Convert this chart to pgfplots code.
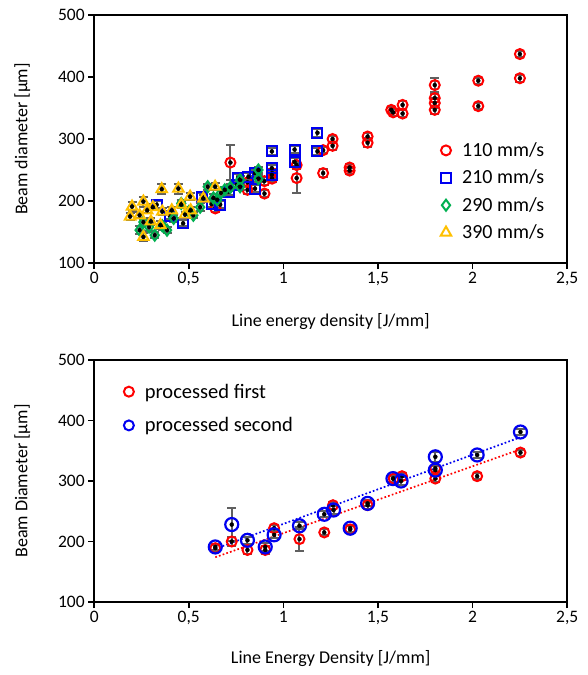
\documentclass[border=0pt]{standalone}
\usepackage{pgfplots}
\pgfplotsset{compat=1.18}
\usepackage{pgfplotstable}
\usepackage{fontspec}
\setmainfont{Carlito}
\definecolor{cred}{HTML}{FF0000}
\definecolor{cblue}{HTML}{0000F0}
\definecolor{cgreen}{HTML}{00B050}
\definecolor{cyellow}{HTML}{FFC000}
\definecolor{cgray}{HTML}{606060}

\pgfplotstableread{
x y e
0.64 188 5
0.72 262 28
0.81 218 6
0.81 230 5
0.90 212 5
0.90 232 6
0.94 245 6
0.94 236 5
1.07 258 6
1.07 237 24
1.21 282 5
1.21 245 6
1.26 300 5
1.26 289 6
1.35 254 6
1.35 249 5
1.445 304 6
1.445 294 7
1.57 347 5
1.58 343 6
1.63 355 6
1.63 341 5
1.80 387 11
1.80 366 7
1.80 358 8
1.80 347 6
2.03 394 5
2.03 353 5
2.25 437 5
2.25 398 6
}\dA

\pgfplotstableread{
x y e
0.33 194 6
0.40 176 5
0.47 164 5
0.57 207 6
0.62 195 5
0.666 194 6
0.71 215 6
0.754 226 5
0.76 237 6
0.815 239 6
0.85 245 5
0.85 220 6
0.939 280 6
0.939 253 5
0.939 242 6
1.059 283 5
1.059 263 6
1.18 310 6
1.18 280 5
}\dB

\pgfplotstableread{
x y e
0.24 153 6
0.26 166 5
0.29 158 6
0.32 145 5
0.36 160 6
0.385 153 5
0.42 172 6
0.46 196 5
0.50 183 6
0.524 177 5
0.56 190 6
0.60 223 5
0.63 205 6
0.65 202 5
0.67 213 6
0.69 218 5
0.72 222 6
0.771 234 6
0.771 223 5
0.868 250 5
0.868 236 6
}\dC

\pgfplotstableread{
x y e
0.19 175 6
0.20 191 7
0.24 177 5
0.26 199 8
0.26 142 6
0.28 185 5
0.30 167 6
0.31 190 5
0.35 161 6
0.36 183 5
0.357 219 8
0.41 185 6
0.445 220 8
0.46 194 6
0.48 178 5
0.507 207 6
0.51 185 5
0.577 204 6
0.639 223 6
}\dD

\pgfplotstableread{
x y e
0.64 189 5
0.727 200 8
0.81 186 6
0.904 186 6
0.951 222 6
1.085 204 20
1.216 215 5
1.262 260 6
1.353 220 6
1.445 260 6
1.583 304 5
1.627 308 6
1.803 304 5
1.803 321 6
2.024 308 5
2.253 347 5
}\dE

\pgfplotstableread{
x y e
0.64 191 5
0.727 228 27
0.81 202 6
0.904 191 6
0.951 211 6
1.085 226 6
1.216 245 5
1.265 252 6
1.353 222 6
1.445 263 5
1.579 304 5
1.622 300 6
1.803 340 8
1.803 318 6
2.024 343 5
2.253 381 5
}\dF

\pgfplotsset{
  myax/.style={
    scale only axis, width=473pt,
    xmin=0, xmax=2.5, ymin=100, ymax=500,
    xtick={0,0.5,1,1.5,2,2.5}, ytick={100,200,300,400,500},
    axis line style={line width=1.5pt},
    major tick style={line width=1.5pt, black},
    major tick length=6pt, tick align=outside,
    xtick pos=bottom, ytick pos=left,
    ticklabel style={font=\fontsize{17.5}{20}\selectfont},
    label style={font=\fontsize{18}{21}\selectfont},
    /pgf/number format/assume math mode=true,
    /pgf/number format/use comma,
    clip=false,
  },
  eb/.style={only marks, mark=none, forget plot,
    error bars/.cd, y dir=both, y explicit,
    error bar style={line width=2pt, color=cgray},
    error mark options={rotate=90, mark size=4.5pt, line width=2pt, color=cgray}},
}

\begin{document}
\begin{tikzpicture}
\path[use as bounding box] (-94.2pt,-412pt) rectangle (493.8pt,263pt);
\begin{axis}[myax, height=248pt, at={(0,0)}, anchor=south west,
  xlabel={Line energy density [J/mm]},
  ylabel={Beam diameter [µm]},
  xlabel style={at={(axis description cs:0.5,-0.235)}, anchor=center},
  ylabel style={at={(axis description cs:-0.152,0.5)}, anchor=center},
  legend style={draw=none, fill=none, at={(axis description cs:0.726,0.502)}, anchor=north west,
    font=\fontsize{20}{23}\selectfont, row sep=8pt, column sep=9pt, nodes={inner sep=2pt}},
  legend cell align=left,
]
\addplot[only marks, mark=o, mark size=5pt, line width=2pt, color=cred] table[x=x,y=y] {\dA};
\addlegendentry{110 mm/s}
\addplot[eb] table[x=x,y=y,y error=e] {\dA};
\addplot[only marks, mark=square, mark size=5pt, line width=2pt, color=cblue] table[x=x,y=y] {\dB};
\addlegendentry{210 mm/s}
\addplot[eb] table[x=x,y=y,y error=e] {\dB};
\addplot[only marks, mark=diamond, mark size=5.5pt, line width=2pt, color=cgreen] table[x=x,y=y] {\dC};
\addlegendentry{290 mm/s}
\addplot[eb] table[x=x,y=y,y error=e] {\dC};
\addplot[only marks, mark=triangle, mark size=6pt, line width=2pt, color=cyellow] table[x=x,y=y] {\dD};
\addlegendentry{390 mm/s}
\addplot[eb] table[x=x,y=y,y error=e] {\dD};
\end{axis}

\begin{axis}[myax, height=242pt, at={(0,-97pt)}, anchor=north west,
  xlabel={Line Energy Density [J/mm]},
  ylabel={Beam Diameter [µm]},
  xlabel style={at={(axis description cs:0.5,-0.235)}, anchor=center},
  ylabel style={at={(axis description cs:-0.152,0.5)}, anchor=center},
  legend style={draw=none, fill=none, at={(axis description cs:0.056,0.919)}, anchor=north west,
    font=\fontsize{20.5}{24}\selectfont, row sep=14pt, column sep=9pt, nodes={inner sep=2pt}},
  legend cell align=left,
]
\addlegendimage{only marks, mark=o, mark size=5pt, line width=2pt, color=cred}
\addlegendentry{processed first}
\addlegendimage{only marks, mark=o, mark size=5pt, line width=2pt, color=cblue}
\addlegendentry{processed second}
\addplot[forget plot, color=cred, line width=1.7pt, dash pattern=on 1.7pt off 2.2pt] coordinates {(0.64,174) (2.25,352)};
\addplot[forget plot, color=cblue, line width=1.7pt, dash pattern=on 1.7pt off 2.2pt] coordinates {(0.64,188) (2.25,372)};
\addplot[forget plot, only marks, mark=o, mark size=5pt, line width=2pt, color=cred] table[x=x,y=y] {\dE};
\addplot[eb] table[x=x,y=y,y error=e] {\dE};
\addplot[forget plot, only marks, mark=o, mark size=6.5pt, line width=2.2pt, color=cblue] table[x=x,y=y] {\dF};
\addplot[eb] table[x=x,y=y,y error=e] {\dF};
\end{axis}
\end{tikzpicture}
\end{document}
